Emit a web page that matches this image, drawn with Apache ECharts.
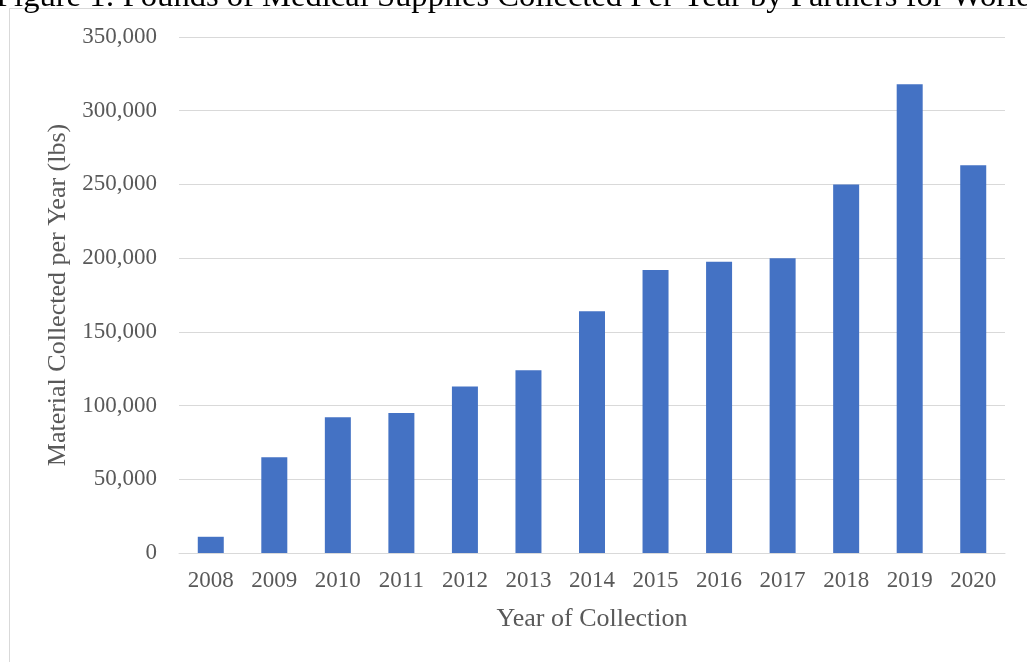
<!DOCTYPE html>
<html>
<head>
<meta charset="utf-8">
<title>Pounds of Medical Supplies Collected Per Year</title>
<script src="https://cdn.jsdelivr.net/npm/echarts@6/dist/echarts.min.js"></script>
<style>
  html, body { margin: 0; padding: 0; background: #fff; }
  #chart { width: 1027px; height: 662px; }
</style>
</head>
<body>
<div id="chart"></div>
<script>
// 数据
const years = ['2008', '2009', '2010', '2011', '2012', '2013', '2014', '2015', '2016', '2017', '2018', '2019', '2020'];
const pounds = [11000, 65000, 92000, 95000, 113000, 124000, 164000, 192000, 197500, 200000, 250000, 318000, 263000];

const titleText = 'Figure 1: Pounds of Medical Supplies Collected Per Year by Partners for World Medical Relief';
const textColor = '#595959';
const fontFamily = '"Liberation Serif", "Times New Roman", serif';

const chart = echarts.init(document.getElementById('chart'));

const option = {
    animation: false,
    backgroundColor: '#fff',
    title: {
        text: titleText,
        left: -4,
        top: -19,
        padding: 0,
        textStyle: { fontFamily: fontFamily, fontSize: 32.6, fontWeight: 'normal', color: '#000' }
    },
    graphic: [{
        type: 'rect',
        z: -1,
        shape: { x: 9.5, y: 8.5, width: 1100, height: 700 },
        style: { fill: 'none', stroke: '#d9d9d9', lineWidth: 1 }
    }],
    grid: { left: 179, right: 22, top: 37, bottom: 109 },
    xAxis: {
        type: 'category',
        data: years,
        name: 'Year of Collection',
        nameLocation: 'middle',
        nameGap: 53,
        nameTextStyle: { fontFamily: fontFamily, fontSize: 26, color: textColor },
        axisLine: { lineStyle: { color: '#d9d9d9', width: 1 } },
        axisTick: { show: false },
        axisLabel: { fontFamily: fontFamily, fontSize: 23, color: textColor, margin: 16 }
    },
    yAxis: {
        type: 'value',
        min: 0,
        max: 350000,
        interval: 50000,
        name: 'Material Collected per Year (lbs)',
        nameLocation: 'middle',
        nameGap: 102,
        nameTextStyle: { fontFamily: fontFamily, fontSize: 26, color: textColor },
        axisLine: { show: false },
        axisTick: { show: false },
        splitLine: { lineStyle: { color: '#d9d9d9', width: 1 } },
        axisLabel: {
            fontFamily: fontFamily, fontSize: 23, color: textColor, margin: 22,
            formatter: v => v.toLocaleString('en-US')
        }
    },
    series: [{
        type: 'bar',
        data: pounds,
        barWidth: 26,
        itemStyle: { color: '#4472c4' }
    }]
};

chart.setOption(option);
</script>
</body>
</html>
